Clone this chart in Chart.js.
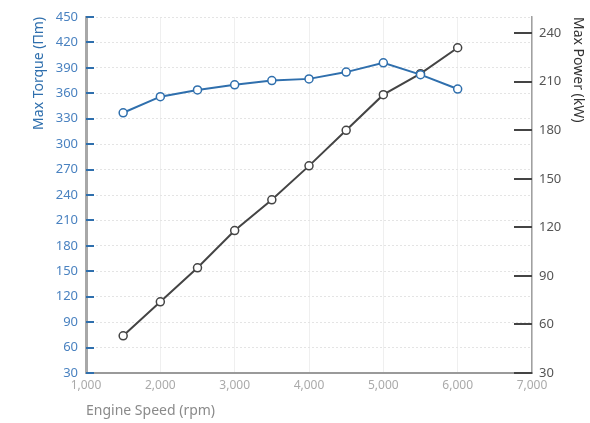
<!DOCTYPE html>
<html>
<head>
<meta charset="utf-8">
<script src="https://cdn.jsdelivr.net/npm/chart.js@4/dist/chart.umd.min.js"></script>
<style>
  html, body { margin: 0; padding: 0; background: #fff; }
  #wrap { width: 590px; height: 423px; }
</style>
</head>
<body>
<div id="wrap"><canvas id="chart"></canvas></div>
<script>
const speeds = [1500, 2000, 2500, 3000, 3500, 4000, 4500, 5000, 5500, 6000];
const torque = [337, 356, 364, 370, 375, 377, 385, 396, 382, 365];
const power = [53, 74, 95, 118, 137, 158, 180, 202, 215, 231];

const torqueTicks = [30, 60, 90, 120, 150, 180, 210, 240, 270, 300, 330, 360, 390, 420, 450];
const powerTicks = [30, 60, 90, 120, 150, 180, 210, 240];

const blue = '#2f6fad';
const blueText = '#4a82c0';
const dark = '#444444';

const toPoints = (ys) => speeds.map((x, i) => ({x: x, y: ys[i]}));

// short tick marks drawn inside the plot, like the original
const innerTicks = {
  id: 'innerTicks',
  afterDatasetsDraw(chart) {
    const ctx = chart.ctx;
    const area = chart.chartArea;
    const y = chart.scales.y;
    const y1 = chart.scales.y1;
    ctx.save();
    ctx.lineWidth = 2;
    ctx.strokeStyle = blue;
    y.ticks.forEach(t => {
      const py = Math.round(y.getPixelForValue(t.value));
      ctx.beginPath();
      ctx.moveTo(area.left, py);
      ctx.lineTo(area.left + 8, py);
      ctx.stroke();
    });
    ctx.strokeStyle = dark;
    y1.ticks.forEach(t => {
      const py = Math.round(y1.getPixelForValue(t.value));
      ctx.beginPath();
      ctx.moveTo(area.right - 18, py);
      ctx.lineTo(area.right, py);
      ctx.stroke();
    });
    ctx.restore();
  }
};

Chart.defaults.font.family = '"Noto Sans", sans-serif';
Chart.defaults.font.size = 12;

new Chart(document.getElementById('chart'), {
  type: 'line',
  data: {
    datasets: [
      {
        label: 'Max Torque',
        data: toPoints(torque),
        yAxisID: 'y',
        borderColor: blue,
        borderWidth: 2,
        pointRadius: 4,
        pointBorderWidth: 1.5,
        pointBackgroundColor: '#fff',
        pointBorderColor: blue,
        tension: 0,
      },
      {
        label: 'Max Power',
        data: toPoints(power),
        yAxisID: 'y1',
        borderColor: dark,
        borderWidth: 2,
        pointRadius: 4,
        pointBorderWidth: 1.5,
        pointBackgroundColor: '#fff',
        pointBorderColor: dark,
        tension: 0,
      },
    ]
  },
  options: {
    responsive: true,
    maintainAspectRatio: false,
    animation: false,
    layout: {padding: {top: 17, left: 31, right: 0, bottom: 0}},
    plugins: {
      legend: {display: false},
      tooltip: {enabled: false},
    },
    scales: {
      x: {
        type: 'linear',
        min: 1000,
        max: 7000,
        ticks: {stepSize: 1000, color: '#aaaaaa', padding: 5, font: {size: 12}},
        grid: {color: '#efefef', drawTicks: false},
        border: {color: '#9a9a9a', width: 2},
        title: {display: true, text: 'Engine Speed (rpm)', align: 'start', color: '#8a8a8a', font: {size: 14}, padding: {top: 8}},
        afterFit: s => { s.height = 50; },
      },
      y: {
        position: 'left',
        min: 30,
        max: 450,
        afterBuildTicks: s => { s.ticks = torqueTicks.map(v => ({value: v})); },
        ticks: {color: blueText, padding: 8, font: {size: 13}},
        grid: {color: '#e4e4e4', drawTicks: false},
        border: {color: '#a8a8a8', width: 3, dash: [2, 2]},
        title: {display: true, text: 'Max Torque (Пm)', align: 'end', color: blue, font: {size: 14}, padding: {top: 0, bottom: 0}},
        afterFit: s => { s.width = 55; },
      },
      y1: {
        position: 'right',
        min: 30,
        max: 250,
        afterBuildTicks: s => { s.ticks = powerTicks.map(v => ({value: v})); },
        ticks: {color: '#555555', padding: 7, font: {size: 13}},
        grid: {display: false, drawTicks: false},
        border: {color: '#a0a0a0', width: 1.5},
        title: {display: true, text: 'Max Power (kW)', align: 'end', color: '#333333', font: {size: 14}, padding: {top: 4, bottom: 0}},
        afterFit: s => { s.width = 58; },
      },
    }
  },
  plugins: [innerTicks]
});
</script>
</body>
</html>
